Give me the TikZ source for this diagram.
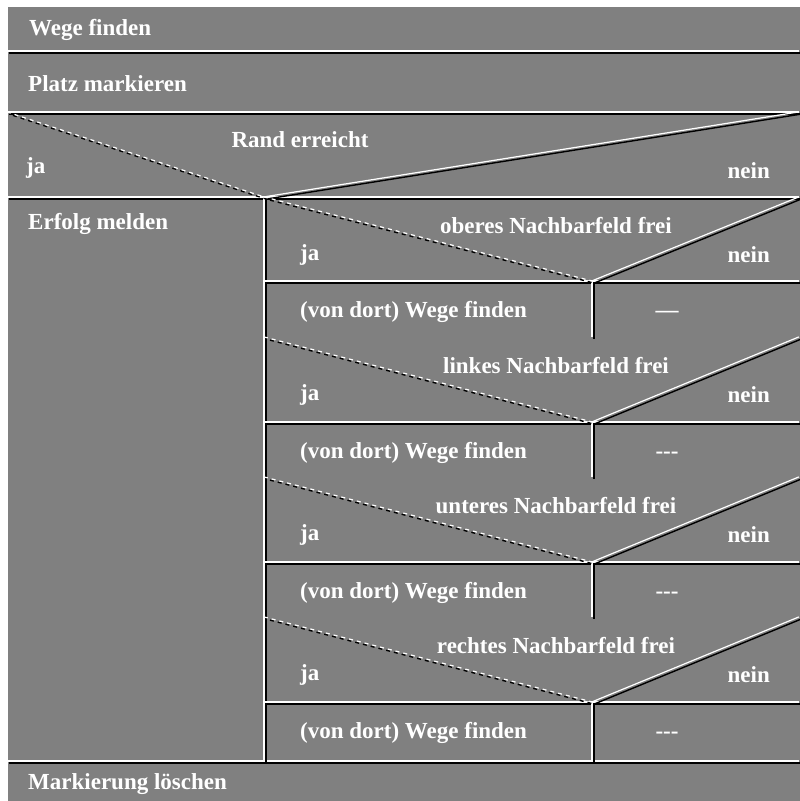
\documentclass[tikz,border=0pt]{standalone}
\usepackage{fontspec}
\setmainfont{Liberation Serif}
\begin{document}
\begin{tikzpicture}[x=1pt,y=-1pt,
  hl/.style={white, line width=1.2pt, transform canvas={shift={(-1.1,-1.1)}}},
  sh/.style={black, line width=1.4pt, transform canvas={shift={(1.1,1.1)}}},
  txt/.style={text=white, font=\fontsize{23}{27}\selectfont\bfseries, inner sep=0pt}]
\definecolor{bggray}{RGB}{128,128,128}
\useasboundingbox (0,0) rectangle (800,801);
\fill[white] (0,0) rectangle (800,801);
\fill[bggray] (8,7) rectangle (800,801);
\newcommand\eline[2]{\draw[sh] #1 -- #2; \draw[hl] #1 -- #2;}
\newcommand\dline[2]{\draw[sh,dash pattern=on 4pt off 4pt,dash phase=4pt] #1 -- #2; \draw[hl,dash pattern=on 4pt off 4pt] #1 -- #2;}
% main coordinates
\coordinate (l52) at (8,52);   \coordinate (r52) at (800,52);
\coordinate (l113) at (8,113); \coordinate (r113) at (800,113);
\coordinate (l198) at (8,198); \coordinate (r198) at (800,198);
\coordinate (apex0) at (265,198);
\coordinate (l762) at (8,762); \coordinate (r762) at (800,762);
\coordinate (v762) at (265,762);
\eline{(l52)}{(r52)}
\eline{(l113)}{(r113)}
\eline{(l198)}{(r198)}
\eline{(l762)}{(r762)}
\eline{(apex0)}{(v762)}
\dline{(l113)}{(apex0)}
\eline{(r113)}{(apex0)}
% texts top
\node[txt,anchor=base west] (t1) at (29,35) {Wege finden};
\node[txt,anchor=base west] (t2) at (28,91) {Platz markieren};
\node[txt,anchor=base] (c0) at (300,147) {Rand erreicht};
\node[txt,anchor=base west] (ja0) at (26,173) {ja};
\node[txt,anchor=base east] (nein0) at (770,178) {nein};
\node[txt,anchor=base west] (erf) at (28,229) {Erfolg melden};
\node[txt,anchor=base west] (mark) at (28,789) {Markierung löschen};
% repeated decisions
\foreach \i/\yt/\yb/\ye/\lbl/\res in {1/198/282/338/oberes/{—},2/338/423/478/linkes/{-{}-{}-},3/478/563/618/unteres/{-{}-{}-},4/618/703/762/rechtes/{-{}-{}-}}{
  \coordinate (tl\i) at (265,\yt);
  \coordinate (tr\i) at (800,\yt);
  \coordinate (ap\i) at (593,\yb);
  \coordinate (bl\i) at (265,\yb);
  \coordinate (br\i) at (800,\yb);
  \coordinate (ve\i) at (593,\ye);
  \eline{(bl\i)}{(br\i)}
  \eline{(ap\i)}{(ve\i)}
  \dline{(tl\i)}{(ap\i)}
  \eline{(tr\i)}{(ap\i)}
  \node[txt,anchor=base] (c\i) at (556,\yt+35) {\lbl\ Nachbarfeld frei};
  \node[txt,anchor=base west] (ja\i) at (300,\yt+62) {ja};
  \node[txt,anchor=base east] (nein\i) at (770,\yt+64) {nein};
  \node[txt,anchor=base west] (a\i) at (300,\yb+35) {(von dort) Wege finden};
  \node[txt,anchor=base] (e\i) at (667,\yb+35) {\res};
}
\end{tikzpicture}
\end{document}
